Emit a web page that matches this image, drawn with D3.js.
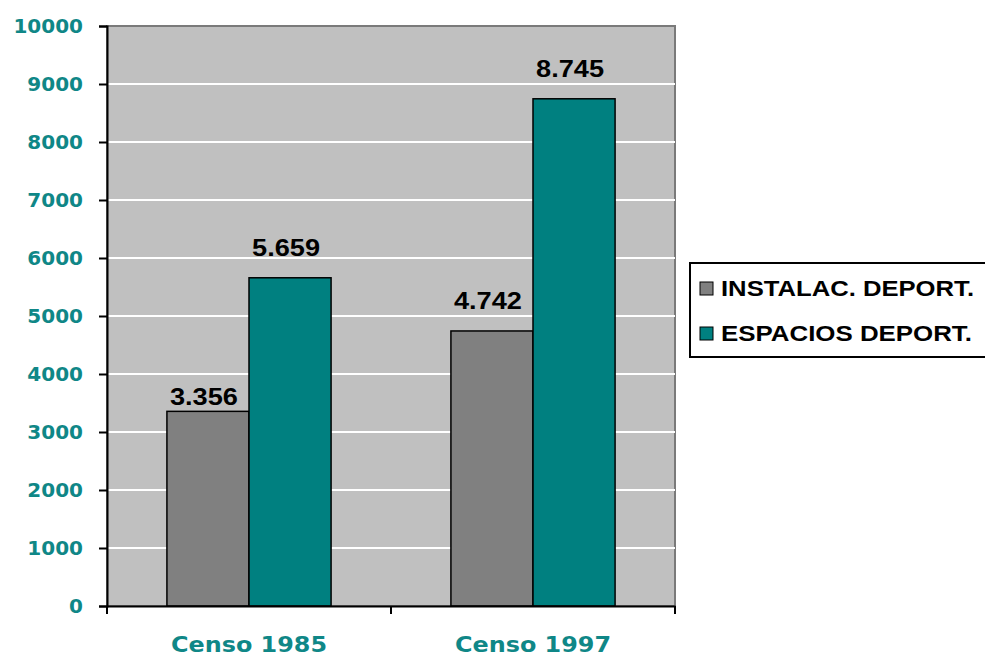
<!DOCTYPE html>
<html><head><meta charset="utf-8">
<script src="https://cdn.jsdelivr.net/npm/d3@7"></script>
<style>body{margin:0;background:#fff}</style>
</head><body>
<svg id="c" width="985" height="657"></svg>
<script>
const categories = ["Censo 1985", "Censo 1997"];
const seriesNames = ["INSTALAC. DEPORT.", "ESPACIOS DEPORT."];
const instalaciones = [3356, 4742];
const espacios = [5659, 8745];
const valueLabels = [["3.356", "4.742"], ["5.659", "8.745"]];
const yTicks = [0, 1000, 2000, 3000, 4000, 5000, 6000, 7000, 8000, 9000, 10000];
const colors = ["#808080", "#008080"];

const svg = d3.select("#c");
const L = 107, R = 675, T = 26, B = 606;
const x = d3.scaleBand().domain(categories).range([L, R]);
const xs = d3.scaleBand().domain([0, 1]).range([0, x.bandwidth()]).paddingOuter(0.73).paddingInner(0);
const y = d3.scaleLinear().domain([0, 10000]).range([B, T]);

svg.append("rect").attr("x", L).attr("y", T).attr("width", R - L).attr("height", B - T)
  .attr("fill", "#c0c0c0").attr("stroke", "#7a7a7a").attr("stroke-width", 2);

svg.append("g").selectAll("line").data(yTicks.filter(d => d > 0 && d < 10000)).join("line")
  .attr("x1", L).attr("x2", R).attr("y1", d => y(d)).attr("y2", d => y(d))
  .attr("stroke", "#ffffff").attr("stroke-width", 2);

const series = [instalaciones, espacios];
series.forEach((vals, si) => {
  svg.append("g").selectAll("rect").data(vals).join("rect")
    .attr("x", (d, i) => x(categories[i]) + xs(si))
    .attr("y", d => y(d))
    .attr("width", xs.bandwidth())
    .attr("height", d => B - y(d))
    .attr("fill", colors[si]).attr("stroke", "#000").attr("stroke-width", 1.5);
});
series.forEach((vals, si) => {
  svg.append("g").selectAll("text").data(vals).join("text")
    .attr("x", (d, i) => x(categories[i]) + xs(si) + xs.bandwidth() / 2 - 4)
    .attr("y", (d, i) => y(d) - (si === 0 && i === 0 ? 6 : 22))
    .attr("text-anchor", "middle")
    .attr("font-family", "Arial, 'Liberation Sans', sans-serif")
    .attr("font-weight", "bold").attr("font-size", 24).attr("fill", "#000")
    .attr("textLength", 68).attr("lengthAdjust", "spacingAndGlyphs")
    .text((d, i) => valueLabels[si][i]);
});

const yAxis = svg.append("g").attr("transform", `translate(${L},0)`)
  .call(d3.axisLeft(y).tickValues(yTicks).tickSize(8).tickPadding(16).tickFormat(d3.format("d")));
yAxis.select(".domain").attr("stroke", "#000").attr("stroke-width", 2);
yAxis.selectAll(".tick line").attr("stroke", "#000").attr("stroke-width", 2);
yAxis.selectAll("text").attr("font-family", "'DejaVu Sans', Verdana, sans-serif").attr("font-weight", "bold")
  .attr("font-size", 20).attr("fill", "#0f8787");

const xAxis = svg.append("g").attr("transform", `translate(0,${B})`)
  .call(d3.axisBottom(x).tickSize(0).tickPadding(30));
xAxis.select(".domain").attr("stroke", "#000").attr("stroke-width", 2);
xAxis.selectAll("text").attr("font-family", "'DejaVu Sans', Verdana, sans-serif").attr("font-weight", "bold")
  .attr("font-size", 22).attr("fill", "#0f8787")
  .attr("textLength", 156).attr("lengthAdjust", "spacingAndGlyphs");
svg.append("g").selectAll("line").data([L, (L + R) / 2, R]).join("line")
  .attr("x1", d => d).attr("x2", d => d).attr("y1", B).attr("y2", B + 8)
  .attr("stroke", "#000").attr("stroke-width", 2);

const lg = svg.append("g");
lg.append("rect").attr("x", 690).attr("y", 263).attr("width", 300).attr("height", 94)
  .attr("fill", "#fff").attr("stroke", "#000").attr("stroke-width", 2);
seriesNames.forEach((n, i) => {
  const yy = 288 + i * 45;
  lg.append("rect").attr("x", 700).attr("y", yy - 6).attr("width", 13).attr("height", 13)
    .attr("fill", colors[i]).attr("stroke", "#000").attr("stroke-width", 1);
  lg.append("text").attr("x", 721).attr("y", yy + 8)
    .attr("font-family", "Arial, 'Liberation Sans', sans-serif").attr("font-weight", "bold")
    .attr("font-size", 22).attr("fill", "#000")
    .attr("textLength", i === 0 ? 253 : 251).attr("lengthAdjust", "spacingAndGlyphs")
    .text(n);
});
</script>
</body></html>
